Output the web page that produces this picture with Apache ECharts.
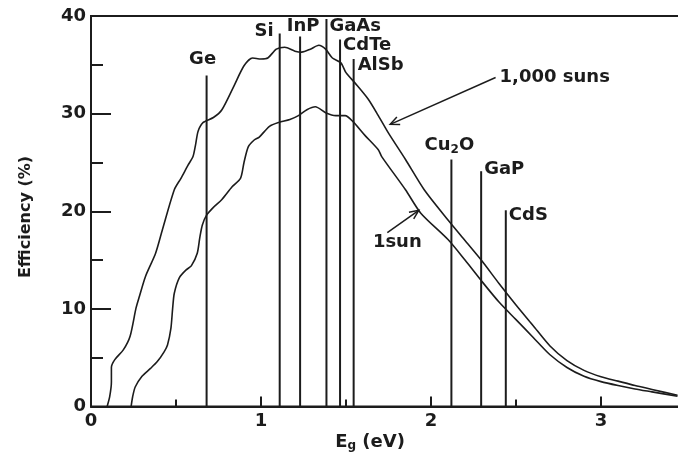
<!DOCTYPE html>
<html lang="en">
<head>
<meta charset="UTF-8">
<script src="https://cdn.jsdelivr.net/npm/echarts@6/dist/echarts.min.js"></script>
<style>
  html, body { margin: 0; padding: 0; background: #fff; }
  #chart { width: 678px; height: 454px; }
</style>
</head>
<body>
<div id="chart"></div>
<script>
// max efficiency (%) vs band gap Eg (eV)
const sun1000 = [
  [0.095, 0], [0.11, 1.0], [0.12, 2.5], [0.12, 4.0], [0.14, 4.8], [0.19, 5.8], [0.23, 7.2],
  [0.265, 10.1], [0.285, 11.3], [0.32, 13.3], [0.38, 15.7], [0.42, 18.1], [0.49, 22.2],
  [0.53, 23.4], [0.57, 24.7], [0.60, 25.6], [0.615, 26.8], [0.63, 28.2], [0.66, 29.1],
  [0.72, 29.6], [0.77, 30.4], [0.84, 32.8], [0.90, 34.9], [0.95, 35.7], [1.0, 35.6],
  [1.04, 35.7], [1.09, 36.6], [1.14, 36.8], [1.20, 36.4], [1.24, 36.3], [1.29, 36.6],
  [1.34, 37.0], [1.38, 36.6], [1.42, 35.7], [1.47, 35.2], [1.50, 34.2], [1.555, 33.1],
  [1.63, 31.5], [1.69, 29.8], [1.75, 28.0], [1.85, 25.3], [1.96, 22.2], [2.10, 19.1],
  [2.2, 17.0], [2.3, 14.9], [2.4, 12.6], [2.5, 10.4], [2.6, 8.3], [2.7, 6.2], [2.8, 4.7],
  [2.9, 3.7], [3.0, 3.05], [3.1, 2.6], [3.2, 2.15], [3.3, 1.75], [3.45, 1.15]
];
const sun1 = [
  [0.236, 0], [0.245, 1.0], [0.26, 2.0], [0.30, 3.1], [0.35, 3.9], [0.39, 4.6], [0.43, 5.6],
  [0.45, 6.3], [0.47, 8.0], [0.48, 10.0], [0.49, 11.6], [0.52, 13.2], [0.56, 14.0],
  [0.59, 14.4], [0.625, 15.7], [0.64, 17.3], [0.655, 18.6], [0.68, 19.6], [0.72, 20.4],
  [0.77, 21.2], [0.83, 22.5], [0.88, 23.4], [0.90, 25.0], [0.925, 26.6], [0.96, 27.3],
  [0.99, 27.6], [1.05, 28.7], [1.105, 29.1], [1.17, 29.4], [1.22, 29.8], [1.27, 30.4],
  [1.32, 30.7], [1.38, 30.1], [1.44, 29.8], [1.495, 29.8], [1.54, 29.2], [1.61, 27.8],
  [1.69, 26.3], [1.71, 25.6], [1.85, 22.2], [1.94, 19.8], [2.10, 17.1], [2.2, 15.0],
  [2.3, 12.8], [2.4, 10.7], [2.5, 8.9], [2.6, 7.1], [2.7, 5.3], [2.8, 4.0], [2.9, 3.1],
  [3.0, 2.55], [3.1, 2.15], [3.2, 1.8], [3.3, 1.5], [3.45, 1.05]
];

// semiconductors: band gap and height of the marker line
const materials = ['Ge', 'Si', 'InP', 'GaAs', 'CdTe', 'AlSb', 'Cu2O', 'GaP', 'CdS'];
const gaps = [0.68, 1.11, 1.23, 1.385, 1.465, 1.545, 2.12, 2.295, 2.44];
const lineTops = [33.9, 38.2, 37.9, 39.7, 37.6, 35.6, 25.3, 24.1, 20.1];

// arrow annotations
const arrowText = ['1,000 suns', '1sun'];
const arrowFrom = [[2.38, 33.7], [1.743, 17.8]];
const arrowTo = [[1.76, 28.9], [1.928, 20.1]];

// label layout: [align, dx, dy] relative to top of line / arrow tail
const labelPlace = [
  ['center', -4, -16], ['right', -6, -2], ['center', 3, -10], ['left', 3, 7], ['left', 3, 6],
  ['left', 4, 6], ['center', -2, -14], ['left', 3, -2], ['left', 3, 5]
];
const arrowPlace = [['left', 4, 0], ['center', 10, 10]];

const ink = '#1c1c1c';
const font = 'DejaVu Sans';

function richName(n) {
  // subscript digits, e.g. Cu2O
  return n.replace(/([A-Za-z]+)/g, '{t|$1}').replace(/(\d)/g, '{s|$1}');
}
const richStyle = {
  t: { fontFamily: font, fontWeight: 'bold', fontSize: 18, lineHeight: 20, fill: ink },
  s: { fontFamily: font, fontWeight: 'bold', fontSize: 12, lineHeight: 10, verticalAlign: 'bottom', fill: ink }
};

const chart = echarts.init(document.getElementById('chart'));

// x runs to 4 eV so the 0.5 minor ticks stay regular; the part past ~3.43 falls off the canvas
const option = {
  animation: false,
  backgroundColor: '#fff',
  grid: {
    left: 91, top: 16, right: -93, bottom: 47.5,
    outerBoundsMode: 'none', containLabel: false,
    show: true, borderColor: ink, borderWidth: 2
  },
  xAxis: {
    type: 'value', min: 0, max: 4, interval: 1,
    axisLine: { lineStyle: { color: ink, width: 2 } },
    axisTick: { inside: true, length: 10, lineStyle: { color: ink, width: 2 } },
    minorTick: { show: true, splitNumber: 2, length: 7, lineStyle: { color: ink, width: 2 } },
    splitLine: { show: false },
    axisLabel: { margin: 6, color: ink, fontFamily: font, fontWeight: 'bold', fontSize: 18 }
  },
  yAxis: {
    type: 'value', min: 0, max: 40, interval: 10,
    axisLine: { show: true, lineStyle: { color: ink, width: 2 } },
    axisTick: { show: true, inside: true, length: 20, lineStyle: { color: ink, width: 2 } },
    minorTick: { show: true, splitNumber: 2, length: 12, lineStyle: { color: ink, width: 2 } },
    splitLine: { show: false },
    axisLabel: { margin: 5, color: ink, fontFamily: font, fontWeight: 'bold', fontSize: 18 }
  },
  graphic: [
    {
      type: 'text', x: 26, y: 217, rotation: Math.PI / 2,
      style: { text: 'Efficiency (%)', fill: ink, font: 'bold 16px "DejaVu Sans"', align: 'center', verticalAlign: 'middle' }
    },
    {
      type: 'text', x: 370, y: 442,
      style: {
        text: '{t|E}{s|g}{t| (eV)}', rich: richStyle, align: 'center', verticalAlign: 'middle'
      }
    }
  ],
  series: [
    {
      name: '1,000 suns', type: 'line', data: sun1000, smooth: 0.25, showSymbol: false,
      lineStyle: { color: ink, width: 1.6 }
    },
    {
      name: '1 sun', type: 'line', data: sun1, smooth: 0.25, showSymbol: false,
      lineStyle: { color: ink, width: 1.6 }
    },
    {
      type: 'custom',
      data: materials.map((m, i) => [gaps[i], lineTops[i]]),
      renderItem: function (params, api) {
        const i = params.dataIndex;
        const base = api.coord([api.value(0), 0]);
        const top = api.coord([api.value(0), api.value(1)]);
        const p = labelPlace[i];
        return {
          type: 'group',
          children: [
            {
              type: 'line',
              shape: { x1: base[0], y1: base[1], x2: top[0], y2: top[1] },
              style: { stroke: ink, lineWidth: 2 }
            },
            {
              type: 'text', x: top[0] + p[1], y: top[1] + p[2],
              style: { text: richName(materials[i]), rich: richStyle, align: p[0], verticalAlign: 'middle' }
            }
          ]
        };
      }
    },
    {
      type: 'custom',
      data: arrowText.map((t, i) => [arrowFrom[i][0], arrowFrom[i][1], arrowTo[i][0], arrowTo[i][1]]),
      renderItem: function (params, api) {
        const i = params.dataIndex;
        const a = api.coord([api.value(0), api.value(1)]);
        const b = api.coord([api.value(2), api.value(3)]);
        const ang = Math.atan2(a[1] - b[1], a[0] - b[0]);
        const head = 10, spread = 0.42;
        const h1 = [b[0] + head * Math.cos(ang + spread), b[1] + head * Math.sin(ang + spread)];
        const h2 = [b[0] + head * Math.cos(ang - spread), b[1] + head * Math.sin(ang - spread)];
        const p = arrowPlace[i];
        return {
          type: 'group',
          children: [
            { type: 'line', shape: { x1: a[0], y1: a[1], x2: b[0], y2: b[1] }, style: { stroke: ink, lineWidth: 1.5 } },
            { type: 'polyline', shape: { points: [h1, b, h2] }, style: { stroke: ink, lineWidth: 1.5, fill: null } },
            {
              type: 'text', x: a[0] + p[1], y: a[1] + p[2],
              style: { text: arrowText[i], fill: ink, font: 'bold 18px "DejaVu Sans"', align: p[0], verticalAlign: 'middle' }
            }
          ]
        };
      }
    }
  ]
};

chart.setOption(option);
</script>
</body>
</html>
